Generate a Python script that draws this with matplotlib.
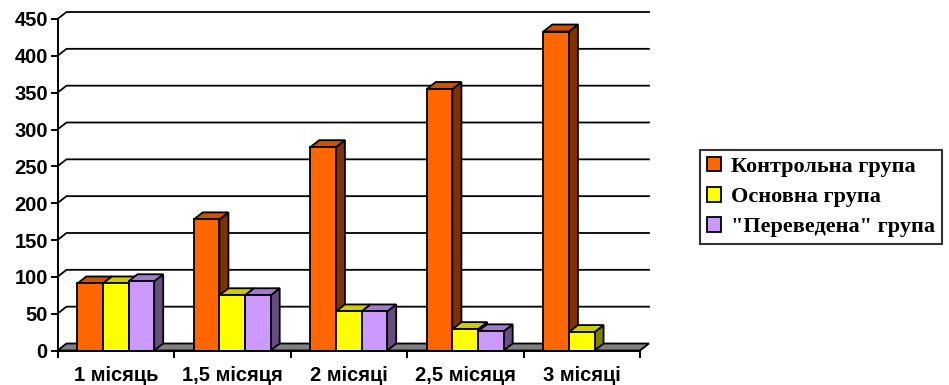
import matplotlib.pyplot as plt
from matplotlib.patches import Polygon, Patch

months = ['1 місяць', '1,5 місяця', '2 місяці', '2,5 місяця', '3 місяці']
control = [91, 178, 276, 355, 433]
basic = [91, 75, 53, 29, 25]
transferred = [94, 75, 53, 26, None]  # no data at 3 months

series_names = ['Контрольна група', 'Основна група', '"Переведена" група']
# front / top / side colours of each series
face_colors = ['#FF6600', '#FFFF00', '#CC99FF']
top_colors = ['#CC5200', '#CCCC00', '#A37ACC']
side_colors = ['#803300', '#808000', '#664C80']

W, H = 949, 385
fig = plt.figure(figsize=(W / 100, H / 100), dpi=100)
ax = fig.add_axes([57.5 / W, (H - 350.5) / H, (640 - 57.5) / W, (350.5 - 19) / H])

n = len(months)
ax.set_xlim(-0.5, n - 0.5)
ax.set_ylim(0, 450)

# depth of the 3d effect, 9 px right and 7 px up, in data units
ddx = 9 * (n / ax.get_position().width / W)
ddy = 7 * (450 / ax.get_position().height / H)

yticks = list(range(0, 451, 50))

# back wall gridlines with the diagonal on the side wall
for v in yticks[1:]:
    ax.plot([-0.5, -0.5 + ddx, n - 0.5 + ddx], [v, v + ddy, v + ddy],
            color='black', lw=1.3, clip_on=False, zorder=1)

# floor
floor = Polygon([(-0.5, 0), (n - 0.5, 0), (n - 0.5 + ddx, ddy), (-0.5 + ddx, ddy)],
                closed=True, facecolor='#808080', edgecolor='black', lw=1.3,
                clip_on=False, zorder=2)
ax.add_patch(floor)

width = 0.22
all_series = [control, basic, transferred]
z = 3
for i in range(n):
    for s, values in enumerate(all_series):
        v = values[i]
        if v is None:
            continue
        x0 = i - 1.5 * width + s * width
        x1 = x0 + width
        side = Polygon([(x1, 0), (x1 + ddx, ddy), (x1 + ddx, v + ddy), (x1, v)],
                       closed=True, facecolor=side_colors[s], edgecolor='black',
                       lw=1.3, clip_on=False, zorder=z)
        top = Polygon([(x0, v), (x1, v), (x1 + ddx, v + ddy), (x0 + ddx, v + ddy)],
                      closed=True, facecolor=top_colors[s], edgecolor='black',
                      lw=1.3, clip_on=False, zorder=z)
        ax.add_patch(side)
        ax.add_patch(top)
        bars = ax.bar(x0, v, width=width, align='edge', color=face_colors[s],
                      edgecolor='black', lw=1.3, zorder=z + 1)
        bars[0].set_clip_on(False)
        z += 2

for side_name in ['top', 'right']:
    ax.spines[side_name].set_visible(False)
ax.spines['left'].set_linewidth(1.4)
ax.spines['bottom'].set_linewidth(1.4)
ax.spines['left'].set_zorder(z + 1)
ax.spines['bottom'].set_zorder(z + 1)

label_font = dict(family=['Liberation Sans', 'DejaVu Sans'], weight='bold', size=14.5)
ax.set_yticks(yticks)
ax.set_yticklabels([str(t) for t in yticks], **label_font)
ax.set_xticks([i - 0.5 for i in range(n + 1)])
ax.set_xticklabels([])
ax.set_xticks(range(n), minor=True)
ax.set_xticklabels(months, minor=True, **label_font)
ax.tick_params(axis='y', length=5, width=1.4, pad=2)
ax.tick_params(axis='x', which='major', length=5, width=1.4)
ax.tick_params(axis='x', which='minor', length=0, pad=11)

handles = [Patch(facecolor=c, edgecolor='black', lw=1.3) for c in face_colors]
leg = fig.legend(handles, series_names, loc='center left',
                 bbox_to_anchor=(700 / W, 1 - 197 / H),
                 prop=dict(family=['Liberation Serif', 'DejaVu Serif'], weight='bold', size=16),
                 frameon=True, fancybox=False, edgecolor='black',
                 handlelength=0.65, handleheight=0.65, handletextpad=0.45,
                 labelspacing=0.45, borderpad=0.3, borderaxespad=0)
leg.get_frame().set_linewidth(1.5)

fig.savefig('out.png', dpi=100)
